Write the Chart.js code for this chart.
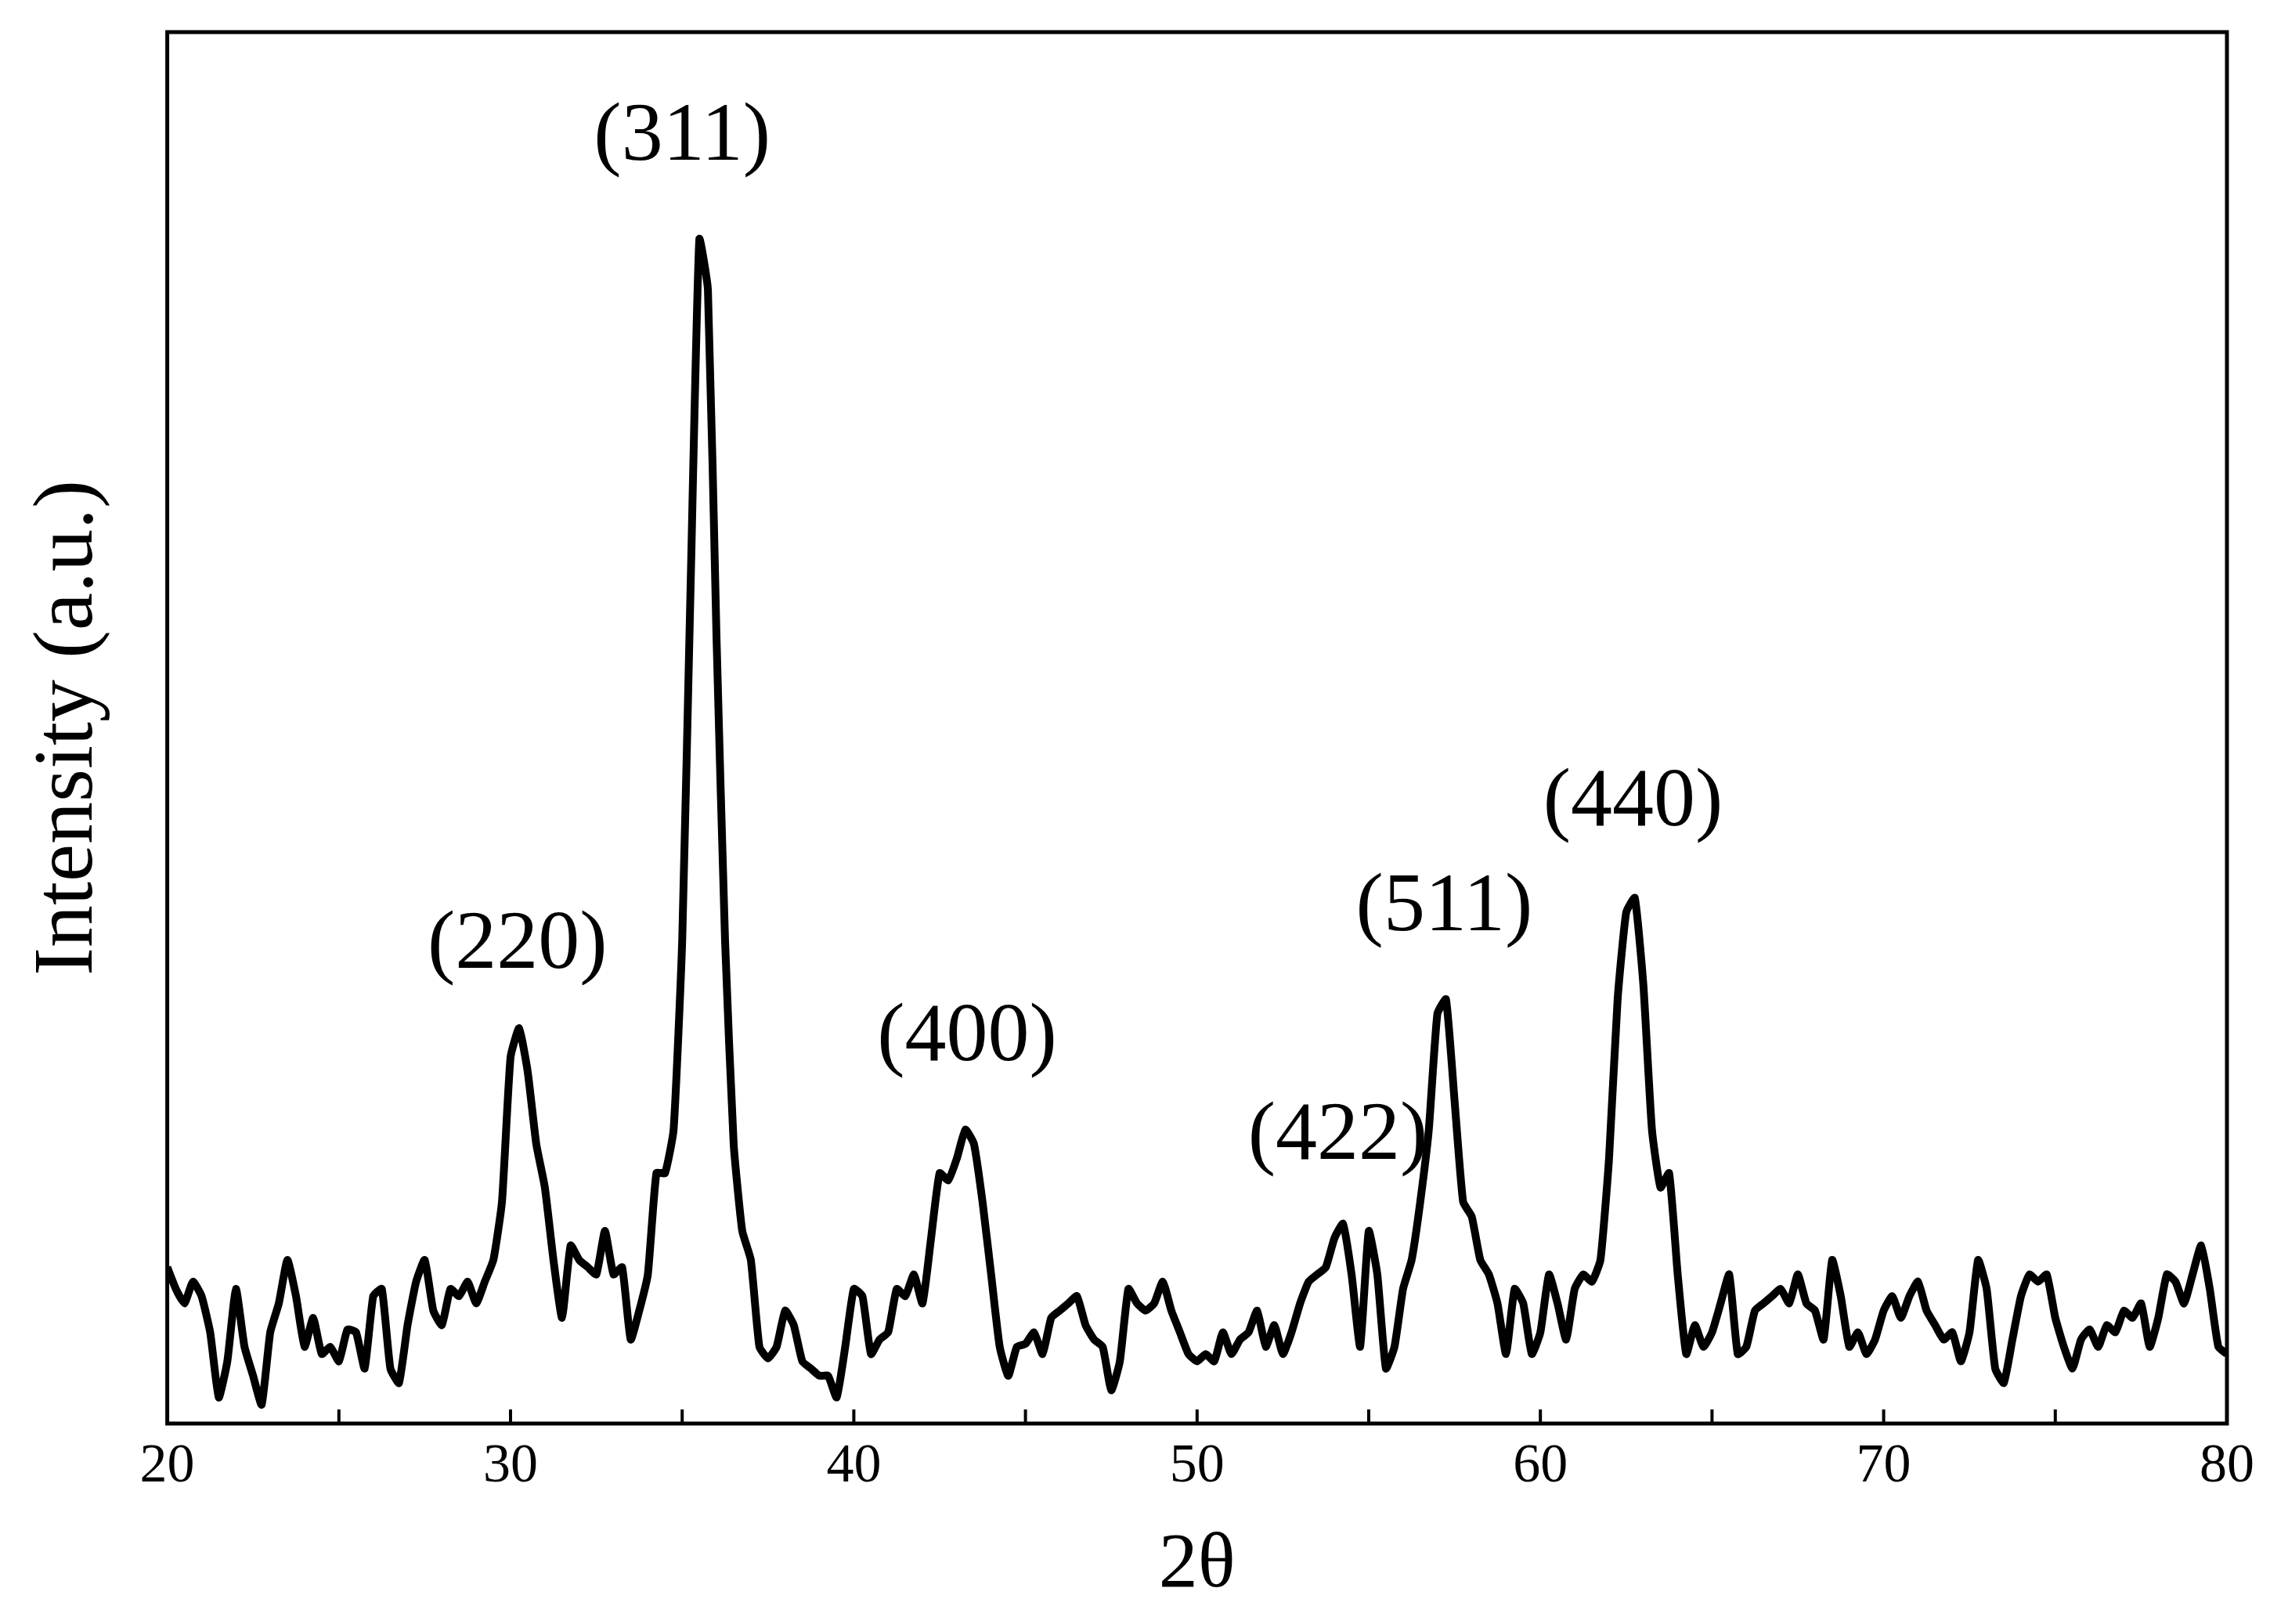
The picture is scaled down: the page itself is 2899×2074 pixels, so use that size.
<!DOCTYPE html>
<html>
<head>
<meta charset="utf-8">
<script src="https://cdn.jsdelivr.net/npm/chart.js@4"></script>
<style>
  html, body { margin: 0; padding: 0; background: #fff; }
  #wrap { width: 2899px; height: 2074px; }
</style>
</head>
<body>
<div id="wrap"><canvas id="chart" width="2899" height="2074"></canvas></div>
<script>
// 2θ from 20 to 80 in 0.25 steps
const startAngle = 20;
const step = 0.25;
const intensity = [
  108, 93, 83, 98, 88, 63, 18, 43, 93, 53, 33, 13, 63, 83, 113, 88, 53, 73, 48, 53,
  43, 65, 63, 38, 88, 93, 38, 28, 68, 98, 113, 78, 68, 93, 88, 98, 83, 98, 113, 153,
  253, 273, 243, 193, 163, 113, 73, 123, 113, 108, 103, 133, 103, 108, 58, 78, 103, 173, 173, 203,
  333, 583, 818, 783, 543, 333, 193, 133, 113, 53, 45, 53, 78, 68, 43, 38, 33, 33, 18, 53,
  93, 88, 48, 58, 63, 93, 88, 103, 83, 128, 173, 168, 183, 203, 193, 153, 103, 53, 33, 53,
  55, 63, 48, 73, 78, 83, 88, 68, 58, 53, 23, 43, 93, 83, 78, 83, 98, 78, 63, 48,
  43, 48, 43, 63, 48, 58, 63, 78, 53, 68, 48, 63, 83, 98, 103, 108, 128, 138, 103, 53,
  133, 103, 38, 53, 93, 113, 153, 203, 283, 293, 223, 153, 143, 113, 103, 83, 48, 93, 83, 48,
  63, 103, 83, 58, 93, 103, 98, 113, 183, 293, 353, 363, 303, 203, 163, 173, 103, 48, 68, 53,
  63, 83, 103, 48, 53, 78, 83, 88, 93, 83, 103, 83, 78, 58, 113, 88, 53, 63, 48, 58,
  78, 88, 73, 88, 98, 78, 68, 58, 63, 43, 63, 113, 93, 38, 28, 58, 88, 103, 98, 103,
  73, 53, 38, 58, 65, 53, 68, 63, 78, 73, 83, 53, 73, 103, 98, 83, 103, 123, 93, 53,
  48
];
const peakLabels = ["(220)", "(311)", "(400)", "(422)", "(511)", "(440)"];
const peakLabelX = [30.2, 35.0, 43.3, 54.1, 57.2, 62.7];
const peakLabelY = [330, 888, 266, 198, 356, 428];

const points = intensity.map((v, i) => ({ x: startAngle + i * step, y: v }));

const peakText = {
  id: "peakText",
  afterDatasetsDraw(c) {
    const { ctx, scales } = c;
    ctx.save();
    ctx.fillStyle = "#000";
    ctx.font = "106px 'Liberation Serif'";
    ctx.textAlign = "center";
    ctx.textBaseline = "middle";
    peakLabels.forEach((t, i) => {
      ctx.fillText(t, scales.x.getPixelForValue(peakLabelX[i]), scales.y.getPixelForValue(peakLabelY[i]));
    });
    ctx.restore();
  }
};

const frame = {
  id: "frame",
  afterDraw(c) {
    const { ctx, chartArea: a } = c;
    ctx.save();
    ctx.strokeStyle = "#000";
    ctx.lineWidth = 5;
    ctx.strokeRect(a.left, a.top, a.right - a.left, a.bottom - a.top);
    ctx.restore();
  }
};

new Chart(document.getElementById("chart"), {
  type: "line",
  data: {
    datasets: [{
      data: points,
      borderColor: "#000",
      borderWidth: 10,
      pointRadius: 0,
      tension: 0.15,
      fill: false
    }]
  },
  options: {
    responsive: false,
    animation: false,
    devicePixelRatio: 1,
    layout: { padding: { top: 41, right: 55, left: 20, bottom: 14 } },
    plugins: { legend: { display: false }, tooltip: { enabled: false } },
    scales: {
      x: {
        type: "linear",
        min: 20,
        max: 80,
        ticks: {
          stepSize: 5,
          color: "#000",
          font: { family: "Liberation Serif", size: 70 },
          padding: 14,
          callback: v => (v % 10 === 0 ? v : "")
        },
        grid: { display: false, drawTicks: false },
        border: { display: false },
        title: {
          display: true,
          text: "2θ",
          color: "#000",
          font: { family: "Liberation Serif", size: 100 },
          padding: { top: 10, bottom: 0 }
        }
      },
      y: {
        min: 0,
        max: 961,
        ticks: { display: false },
        grid: { display: false, drawTicks: false },
        border: { display: false },
        title: {
          display: true,
          text: "Intensity (a.u.)",
          color: "#000",
          font: { family: "Liberation Serif", size: 108 },
          padding: { bottom: 60 }
        }
      }
    }
  },
  plugins: [peakText, frame, {
    id: "innerTicks",
    afterDraw(c) {
      const { ctx, chartArea: a, scales } = c;
      ctx.save();
      ctx.strokeStyle = "#000";
      ctx.lineWidth = 4;
      for (let v = 25; v < 80; v += 5) {
        const px = scales.x.getPixelForValue(v);
        ctx.beginPath();
        ctx.moveTo(px, a.bottom);
        ctx.lineTo(px, a.bottom - 18);
        ctx.stroke();
      }
      ctx.restore();
    }
  }]
});
</script>
</body>
</html>
